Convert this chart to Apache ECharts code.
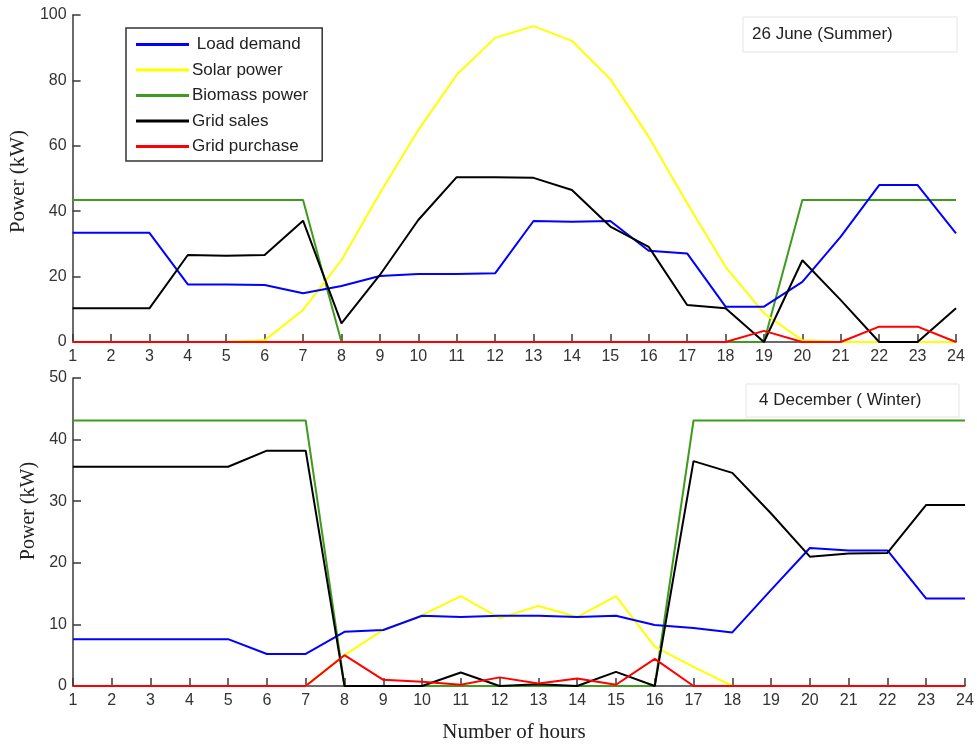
<!DOCTYPE html>
<html>
<head>
<meta charset="utf-8">
<script src="https://cdn.jsdelivr.net/npm/echarts@6/dist/echarts.min.js"></script>
<style>
html,body{margin:0;padding:0;background:#fff;}
#chart{width:977px;height:754px;}
</style>
</head>
<body>
<div id="chart"></div>
<script>
// ---------- data ----------
const hours = [1,2,3,4,5,6,7,8,9,10,11,12,13,14,15,16,17,18,19,20,21,22,23,24];
const seriesNames = ['Load demand','Solar power','Biomass power','Grid sales','Grid purchase'];

// Summer (26 June)
const summerLoad     = [33.4,33.4,33.4,17.6,17.6,17.4,14.9,17.1,20.2,20.8,20.8,21.0,37.0,36.8,37.0,27.9,27.1,10.8,10.8,18.4,32.2,48.0,48.0,33.2];
const summerSolar    = [0,0,0,0,0,0.5,9.8,25.0,45.5,64.8,81.7,93.0,96.6,92.1,80.4,62.8,42.4,23.0,8.8,0.5,0,0,0,0];
const summerBiomass  = [43.4,43.4,43.4,43.4,43.4,43.4,43.4,0,0,0,0,0,0,0,0,0,0,0,0,43.4,43.4,43.4,43.4,43.4];
const summerSales    = [10.3,10.3,10.3,26.6,26.4,26.6,37.1,5.7,20.5,37.3,50.4,50.4,50.2,46.5,35.3,29.1,11.3,10.3,0,25.0,12.8,0,0,10.3];
const summerPurchase = [0,0,0,0,0,0,0,0,0,0,0,0,0,0,0,0,0,0,3.4,0,0,4.7,4.7,0];

// Winter (4 December)
const winterLoad     = [7.6,7.6,7.6,7.6,7.6,5.2,5.2,8.8,9.1,11.4,11.2,11.4,11.4,11.2,11.4,9.9,9.4,8.7,15.6,22.4,22.0,22.0,14.2,14.2];
const winterSolar    = [0,0,0,0,0,0,0,5.0,9.1,11.5,14.6,11.0,13.0,11.2,14.6,6.4,3.1,0,0,0,0,0,0,0];
const winterBiomass  = [43.1,43.1,43.1,43.1,43.1,43.1,43.1,0,0,0,0,0,0,0,0,0,43.1,43.1,43.1,43.1,43.1,43.1,43.1,43.1];
const winterSales    = [35.6,35.6,35.6,35.6,35.6,38.2,38.2,0,0,0,2.2,0,0.3,0,2.3,0,36.5,34.6,28.0,21.0,21.5,21.6,29.4,29.4];
const winterPurchase = [0,0,0,0,0,0,0,5.0,1.0,0.7,0.2,1.4,0.4,1.2,0.2,4.4,0,0,0,0,0,0,0,0];

const topYTicks = [0,20,40,60,80,100];
const botYTicks = [0,10,20,30,40,50];

const colors = ['#0000ff','#ffff00','#3f9b1e','#000000','#ff0000'];

// ---------- chart ----------
const chart = echarts.init(document.getElementById('chart'), null, {renderer:'canvas'});
const pairs = arr => hours.map((h,i)=>[h,arr[i]]);

const summer = [summerLoad, summerSolar, summerBiomass, summerSales, summerPurchase];
const winter = [winterLoad, winterSolar, winterBiomass, winterSales, winterPurchase];
// draw order: biomass, solar, load, sales, purchase on top
const order = [2,1,0,3,4];

const series = [];
[summer, winter].forEach((set, gi)=>{
  order.forEach(k=>{
    series.push({
      name: seriesNames[k], type:'line',
      xAxisIndex: gi, yAxisIndex: gi,
      data: pairs(set[k]),
      showSymbol:false, symbol:'none',
      lineStyle:{color:colors[k], width:2},
      itemStyle:{color:colors[k]},
      animation:false
    });
  });
});

const axisLine = {show:true, lineStyle:{color:'#3a3a3a', width:1.5}};
const tickCommon = {show:true, inside:true, length:8, lineStyle:{color:'#3a3a3a', width:1.5}};
const labelFont = {color:'#333', fontFamily:'Liberation Sans, Arial, sans-serif', fontSize:16};
const serif = 'Liberation Serif, Times New Roman, serif';

function xAx(gi){
  return {
    type:'value', gridIndex:gi, min:1, max:24, interval:1,
    axisLine, axisTick:tickCommon,
    axisLabel:Object.assign({margin:7}, labelFont),
    splitLine:{show:false},
    name: gi===1 ? 'Number of hours' : '',
    nameLocation:'middle', nameGap:36,
    nameTextStyle:{fontFamily:serif, fontSize:21, color:'#222', padding:[0,10,0,0]}
  };
}
function yAx(gi, max, interval){
  return {
    type:'value', gridIndex:gi, min:0, max, interval,
    axisLine, axisTick:tickCommon,
    axisLabel:Object.assign({margin:6}, labelFont),
    splitLine:{show:false},
    name:'Power (kW)', nameLocation:'middle', nameGap: gi===0 ? 38 : 28,
    nameTextStyle: gi===0
      ? {fontFamily:serif, fontSize:21, color:'#222', padding:[0,6,0,0]}
      : {fontFamily:serif, fontSize:20, color:'#222', padding:[0,0,0,42]}
  };
}

const option = {
  backgroundColor:'#fff',
  animation:false,
  grid:[
    {left:70, top:15, width:886, height:327},
    {left:73, top:378, width:892, height:308}
  ],
  xAxis:[xAx(0), xAx(1)],
  yAxis:[yAx(0, topYTicks[topYTicks.length-1], topYTicks[1]-topYTicks[0]),
         yAx(1, botYTicks[botYTicks.length-1], botYTicks[1]-botYTicks[0])],
  legend:{
    data:seriesNames,
    orient:'vertical', left:126, top:28,
    backgroundColor:'#fff', borderColor:'#333', borderWidth:1.5,
    padding:[8,14,6,10],
    itemWidth:53, itemHeight:3, itemGap:8.5, icon:'rect',
    selectedMode:false,
    formatter: n => n==='Load demand' ? ' '+n : n,
    textStyle:{fontFamily:'Liberation Sans, Arial, sans-serif', fontSize:17, color:'#222', padding:[0,0,0,-2]}
  },
  graphic:[
    {type:'rect', shape:{x:743, y:17, width:214, height:35}, style:{fill:'#fff', stroke:'#e4e4e4', lineWidth:1}, z:10},
    {type:'text', x:752, y:34, style:{text:'26 June (Summer)', fontFamily:'Liberation Sans, Arial, sans-serif', fontSize:17, fill:'#222', textVerticalAlign:'middle', verticalAlign:'middle'}, z:11},
    {type:'rect', shape:{x:746, y:384, width:213, height:33}, style:{fill:'#fff', stroke:'#e4e4e4', lineWidth:1}, z:10},
    {type:'text', x:759, y:400, style:{text:'4 December ( Winter)', fontFamily:'Liberation Sans, Arial, sans-serif', fontSize:17, fill:'#222', textVerticalAlign:'middle', verticalAlign:'middle'}, z:11}
  ],
  series
};
chart.setOption(option);
</script>
</body>
</html>
